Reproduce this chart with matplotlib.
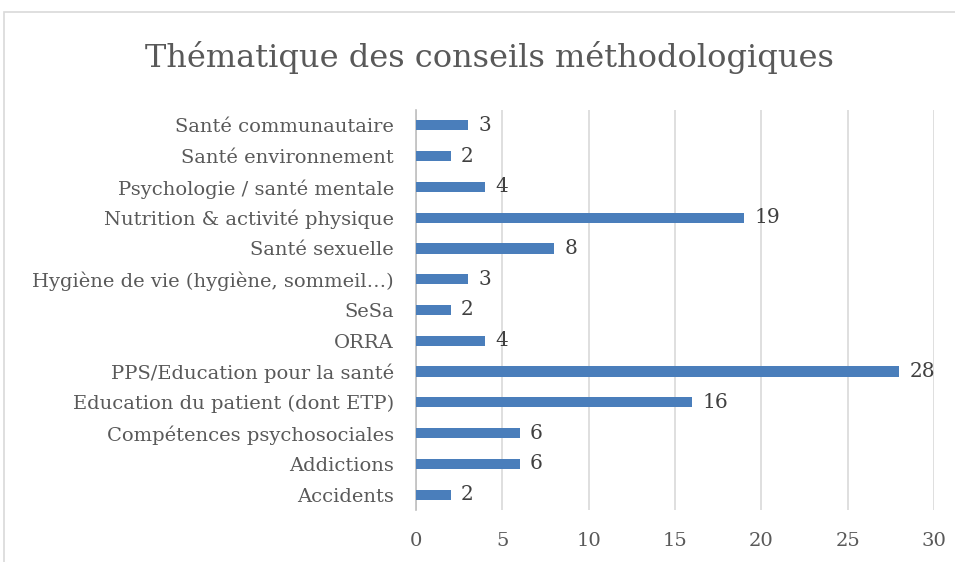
import matplotlib as mpl
mpl.use("Agg")
import matplotlib.pyplot as plt
from matplotlib.patches import Rectangle

categories = [
    "Accidents",
    "Addictions",
    "Compétences psychosociales",
    "Education du patient (dont ETP)",
    "PPS/Education pour la santé",
    "ORRA",
    "SeSa",
    "Hygiène de vie (hygiène, sommeil…)",
    "Santé sexuelle",
    "Nutrition & activité physique",
    "Psychologie / santé mentale",
    "Santé environnement",
    "Santé communautaire",
]
values = [2, 6, 6, 16, 28, 4, 2, 3, 8, 19, 4, 2, 3]
xticks = [0, 5, 10, 15, 20, 25, 30]

plt.rcParams["font.family"] = ["DejaVu Serif"]

fig = plt.figure(figsize=(9.55, 5.62), dpi=100)
ax = fig.add_axes([416 / 955, 1 - 510 / 562, (934 - 416) / 955, 400 / 562])

# outer chart border (partly cut off in the reference)
fig.patches.append(Rectangle((4 / 955, -0.1), 1.2, 1.1 - 12 / 562,
                             transform=fig.transFigure, fill=False,
                             edgecolor="#d9d9d9", linewidth=1.2))

pos = range(len(categories))
ax.barh(pos, values, height=0.33, color="#4a7ebb", zorder=3)
for y, v in zip(pos, values):
    ax.text(v + 0.6, y, str(v), va="center", ha="left", fontsize=14.5, color="#404040")

ax.set_xlim(0, 30)
ax.set_ylim(-0.5, len(categories) - 0.5)
ax.set_xticks(xticks)
ax.set_yticks(list(pos))
ax.set_yticklabels(categories)
ax.tick_params(axis="both", length=0, labelsize=14, labelcolor="#595959")
ax.tick_params(axis="x", pad=16)
ax.tick_params(axis="y", pad=16)
ax.grid(axis="x", color="#d9d9d9", linewidth=1.2, zorder=0)
for s in ["top", "right", "bottom"]:
    ax.spines[s].set_visible(False)
ax.spines["left"].set_color("#bfbfbf")
ax.spines["left"].set_linewidth(1.2)

fig.text(489 / 955, 1 - 57 / 562, "Thématique des conseils méthodologiques",
         ha="center", va="center", fontsize=23, color="#595959")

fig.savefig("out.png", dpi=100)
